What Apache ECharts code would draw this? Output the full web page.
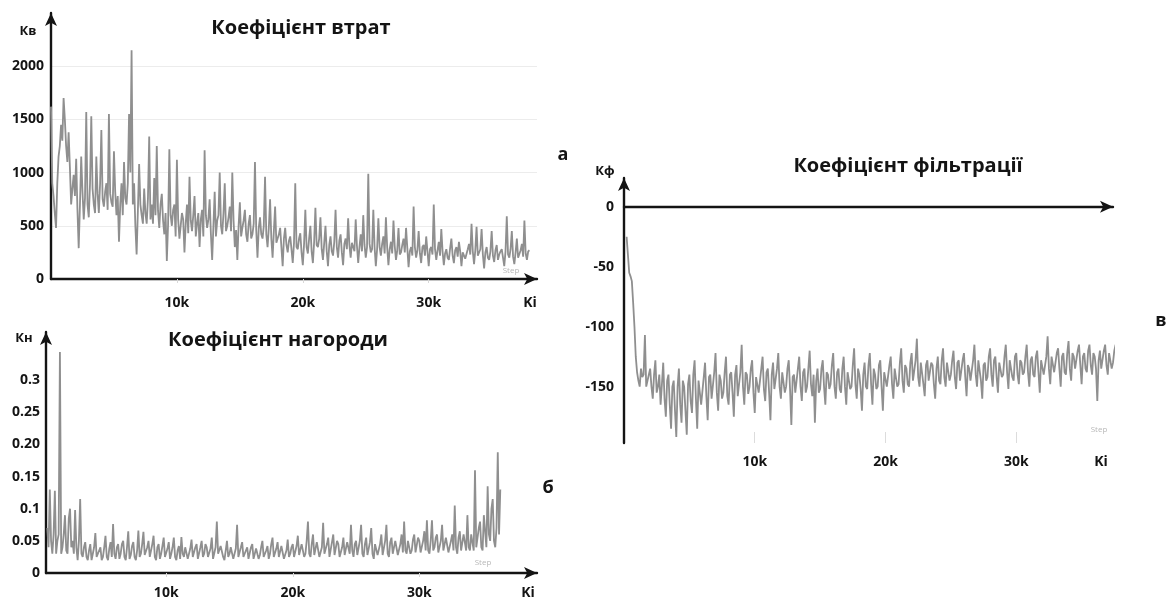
<!DOCTYPE html>
<html><head><meta charset="utf-8">
<script src="https://cdn.jsdelivr.net/npm/echarts@6/dist/echarts.min.js"></script>
<style>html,body{margin:0;padding:0;background:#fff}#c{width:1170px;height:601px}</style>
</head><body><div id="c"></div>
<script>
// ---- data (one value per 100 training steps) ----
const lossStart = 0, lossStepSize = 100;
const lossValues = [
1620,900,780,620,480,900,1150,1250,1450,1300,1700,1500,1250,1100,1380,1050,700,850,980,780,
1130,650,290,700,1150,820,560,760,1570,700,580,900,1530,850,700,620,1150,800,620,900,
1400,750,680,820,900,650,1550,800,720,680,1200,820,600,780,350,700,900,600,1100,760,
700,900,1550,1000,2150,700,900,500,230,640,1080,700,600,520,850,620,520,760,1340,560,
700,520,950,600,1250,640,480,700,800,550,420,620,170,520,1220,600,500,650,700,400,
1120,560,380,500,620,560,250,520,700,430,960,550,450,600,780,400,520,620,300,560,
650,400,1210,600,480,560,750,420,180,500,820,400,550,600,1000,500,420,620,900,450,
500,580,680,450,1000,550,300,460,180,500,720,400,480,550,650,420,350,520,600,380,
420,520,1100,460,200,480,580,420,380,500,960,420,300,480,750,380,200,450,680,340,
350,420,480,300,120,380,480,320,250,360,400,280,150,340,900,300,280,380,430,250,
130,330,650,300,240,380,500,260,150,350,670,320,300,380,580,280,180,340,500,260,
120,320,400,260,220,350,650,300,200,360,420,250,130,330,380,280,570,320,200,340,
350,260,560,310,150,300,420,260,600,320,200,300,990,330,250,280,650,300,120,280,
570,300,220,330,400,240,580,300,130,280,350,240,550,310,180,270,480,230,250,320,
380,250,480,290,110,260,300,220,680,300,200,270,450,240,150,300,320,220,400,260,
120,280,300,230,700,280,180,270,350,220,470,260,130,240,280,200,180,290,380,220,
150,270,300,210,350,260,120,250,260,190,200,280,330,230,520,260,140,270,490,220,
220,280,470,230,100,250,300,200,180,260,450,220,160,270,320,180,230,260,280,200,
120,260,590,230,200,280,450,210,140,250,380,200,200,270,330,210,550,240,180,260,
270];
const rewardStart = 600, rewardStepSize = 100;
const rewardValues = [
0.07,0.04,0.13,0.05,0.03,0.06,0.128,0.03,0.05,0.06,0.344,0.03,0.04,0.06,0.09,0.035,0.03,0.085,0.10,0.04,
0.05,0.03,0.098,0.04,0.02,0.05,0.115,0.03,0.025,0.04,0.048,0.025,0.02,0.035,0.045,0.02,0.03,0.04,0.062,0.025,
0.022,0.035,0.04,0.02,0.025,0.04,0.058,0.025,0.02,0.038,0.048,0.025,0.076,0.03,0.022,0.04,0.045,0.022,0.03,0.045,
0.05,0.025,0.02,0.04,0.065,0.022,0.028,0.042,0.048,0.025,0.02,0.035,0.066,0.025,0.03,0.045,0.064,0.028,0.025,0.04,
0.05,0.025,0.035,0.045,0.058,0.025,0.02,0.04,0.045,0.022,0.03,0.042,0.055,0.025,0.022,0.038,0.048,0.022,0.03,0.04,
0.055,0.025,0.02,0.035,0.042,0.022,0.056,0.03,0.025,0.04,0.04,0.022,0.02,0.038,0.052,0.025,0.028,0.04,0.045,0.022,
0.02,0.04,0.05,0.025,0.03,0.045,0.04,0.025,0.022,0.038,0.055,0.022,0.025,0.04,0.08,0.03,0.03,0.042,0.045,0.025,
0.02,0.035,0.05,0.025,0.03,0.04,0.042,0.022,0.02,0.038,0.075,0.025,0.028,0.04,0.048,0.025,0.022,0.035,0.04,0.022,
0.025,0.04,0.045,0.022,0.02,0.038,0.035,0.022,0.028,0.04,0.05,0.025,0.022,0.035,0.042,0.022,0.03,0.045,0.055,0.025,
0.022,0.038,0.048,0.025,0.025,0.042,0.04,0.022,0.02,0.035,0.052,0.025,0.03,0.04,0.045,0.025,0.022,0.042,0.058,0.028,
0.025,0.045,0.048,0.025,0.03,0.05,0.08,0.03,0.025,0.045,0.06,0.028,0.03,0.048,0.05,0.025,0.022,0.04,0.078,0.03,
0.03,0.045,0.055,0.025,0.025,0.048,0.06,0.028,0.028,0.05,0.045,0.025,0.022,0.04,0.055,0.028,0.03,0.048,0.045,0.03,
0.075,0.035,0.025,0.045,0.05,0.028,0.03,0.05,0.075,0.03,0.025,0.045,0.055,0.028,0.03,0.048,0.07,0.03,0.022,0.045,
0.048,0.028,0.025,0.045,0.06,0.028,0.03,0.05,0.075,0.03,0.025,0.048,0.055,0.03,0.03,0.05,0.05,0.028,0.025,0.045,
0.06,0.032,0.08,0.035,0.03,0.05,0.05,0.03,0.035,0.052,0.06,0.032,0.03,0.055,0.05,0.032,0.035,0.05,0.065,0.035,
0.082,0.035,0.03,0.05,0.082,0.035,0.04,0.055,0.06,0.032,0.03,0.05,0.075,0.035,0.035,0.055,0.055,0.032,0.03,0.05,
0.06,0.035,0.105,0.04,0.03,0.055,0.065,0.035,0.035,0.06,0.06,0.035,0.09,0.04,0.035,0.06,0.06,0.035,0.16,0.04,
0.04,0.07,0.08,0.04,0.035,0.09,0.065,0.04,0.135,0.06,0.05,0.1,0.115,0.05,0.04,0.07,0.188,0.06,0.13];
const filterStart = 200, filterStepSize = 100;
const filterValues = [
-25,-40,-55,-58,-62,-80,-100,-125,-138,-145,-150,-135,-142,-140,-107,-150,-145,-140,-135,-150,
-160,-140,-128,-155,-150,-140,-165,-148,-130,-160,-175,-145,-140,-165,-185,-150,-145,-170,-192,-150,
-135,-165,-180,-145,-150,-170,-190,-148,-140,-162,-172,-140,-128,-160,-185,-145,-145,-165,-165,-142,
-130,-158,-178,-142,-140,-160,-160,-138,-122,-155,-170,-140,-145,-160,-155,-138,-125,-158,-165,-140,
-138,-155,-175,-140,-132,-158,-158,-138,-115,-150,-165,-138,-140,-156,-150,-135,-128,-155,-172,-142,
-142,-155,-155,-135,-125,-152,-162,-138,-135,-155,-178,-140,-130,-152,-152,-135,-122,-150,-160,-138,
-138,-155,-150,-135,-128,-152,-182,-142,-140,-155,-155,-135,-125,-150,-162,-138,-135,-155,-150,-135,
-120,-148,-158,-140,-180,-145,-135,-155,-152,-135,-128,-150,-165,-138,-140,-152,-148,-132,-122,-150,
-160,-138,-135,-152,-155,-135,-125,-150,-165,-138,-138,-152,-150,-132,-118,-148,-160,-135,-140,-152,
-170,-140,-130,-150,-152,-132,-122,-148,-165,-135,-140,-152,-150,-132,-128,-150,-170,-138,-138,-150,
-150,-132,-125,-148,-160,-135,-135,-150,-148,-130,-118,-145,-155,-132,-135,-148,-150,-130,-122,-145,
-145,-128,-110,-142,-150,-130,-130,-148,-158,-132,-128,-145,-145,-130,-132,-148,-160,-135,-125,-145,
-148,-128,-118,-142,-150,-130,-130,-145,-140,-128,-120,-142,-152,-130,-128,-145,-145,-128,-122,-142,
-158,-132,-135,-145,-145,-128,-115,-140,-150,-128,-128,-145,-160,-132,-130,-145,-142,-125,-118,-140,
-150,-128,-125,-142,-155,-130,-130,-142,-140,-125,-115,-138,-152,-128,-128,-142,-145,-125,-122,-140,
-148,-128,-130,-140,-138,-125,-115,-138,-150,-128,-125,-140,-142,-125,-120,-138,-155,-128,-128,-140,
-140,-125,-108,-135,-148,-125,-125,-138,-138,-122,-118,-135,-150,-125,-122,-138,-140,-122,-112,-135,
-145,-122,-125,-135,-135,-120,-115,-132,-148,-125,-122,-135,-138,-120,-115,-132,-140,-122,-125,-135,
-162,-128,-120,-135,-135,-120,-115,-132,-140,-122,-122,-135,-130,-120,-115];
const xTickValues = [10000, 20000, 30000];
const xTickLabels = ['10k', '20k', '30k'];
const lossTickValues = [0, 500, 1000, 1500, 2000];
const lossTickLabels = ['0', '500', '1000', '1500', '2000'];
const rewardTickValues = [0, 0.05, 0.1, 0.15, 0.2, 0.25, 0.3];
const rewardTickLabels = ['0', '0.05', '0.1', '0.15', '0.20', '0.25', '0.3'];
const filterTickValues = [0, -50, -100, -150];
const filterTickLabels = ['0', '-50', '-100', '-150'];

// ---- build ----
const toPairs = (start, step, vals) => vals.map((v, i) => [start + i * step, v]);
const lbl = (vals, labels) => (v) => {
  for (let i = 0; i < vals.length; i++) if (Math.abs(vals[i] - v) < 1e-9) return labels[i];
  return '';
};
const FONT = '"Open Sans", "DejaVu Sans", sans-serif';
const INK = '#141414';
const LINE = '#8f8f8f';
const axisLineStyle = { color: INK, width: 2.4 };
const arrow = { symbol: ['none', 'arrow'], symbolSize: [9, 13] };
const tickText = { fontFamily: FONT, fontWeight: 'bold', fontSize: 14, color: INK };

const chart = echarts.init(document.getElementById('c'), null, { renderer: 'canvas' });
const txt = (text, x, y, size, color, weight) => ({
  type: 'text', x: x, y: y, silent: true,
  style: { text: text, align: 'center', verticalAlign: 'middle', fontFamily: FONT,
           fontSize: size, fontWeight: weight || 'bold', fill: color || INK }
});
const lineSeries = (xi, data, extra) => Object.assign({
  type: 'line', xAxisIndex: xi, yAxisIndex: Math.min(xi, 2), data: data,
  showSymbol: false, symbol: 'none',
  lineStyle: { color: LINE, width: 1.8, join: 'bevel' }, silent: true, z: 1
}, extra || {});

chart.setOption({
  animation: false,
  backgroundColor: '#fff',
  title: [
    { text: 'Коефіцієнт втрат', left: 296, top: 13, textAlign: 'center',
      textStyle: { fontFamily: FONT, fontWeight: 'bold', fontSize: 20, color: INK } },
    { text: 'Коефіцієнт нагороди', left: 273, top: 325, textAlign: 'center',
      textStyle: { fontFamily: FONT, fontWeight: 'bold', fontSize: 20, color: INK } },
    { text: 'Коефіцієнт фільтрації', left: 903, top: 151, textAlign: 'center',
      textStyle: { fontFamily: FONT, fontWeight: 'bold', fontSize: 20, color: INK } }
  ],
  grid: [
    { left: 51, top: 13, width: 486, height: 266 },
    { left: 46, top: 332, width: 491, height: 241 },
    { left: 624, top: 178, width: 489, height: 265 }
  ],
  xAxis: [
    { gridIndex: 0, type: 'value', min: 0, max: 38600,
      axisLine: Object.assign({ lineStyle: axisLineStyle }, arrow),
      axisTick: { show: true, customValues: xTickValues, length: 4, lineStyle: { color: '#d8d8d8' } },
      axisLabel: Object.assign({ customValues: xTickValues, margin: 17, formatter: lbl(xTickValues, xTickLabels) }, tickText),
      splitLine: { show: false } },
    { gridIndex: 1, type: 'value', min: 500, max: 39300,
      axisLine: Object.assign({ lineStyle: axisLineStyle }, arrow),
      axisTick: { show: true, customValues: xTickValues, length: 4, lineStyle: { color: '#d8d8d8' } },
      axisLabel: Object.assign({ customValues: xTickValues, margin: 13, formatter: lbl(xTickValues, xTickLabels) }, tickText),
      splitLine: { show: false } },
    { gridIndex: 2, type: 'value', min: 0, max: 37400, position: 'bottom',
      axisLine: { show: false, onZero: false },
      axisTick: { show: true, inside: true, customValues: xTickValues, length: 11, lineStyle: { color: '#dcdcdc' } },
      axisLabel: Object.assign({ customValues: xTickValues, margin: 12, formatter: lbl(xTickValues, xTickLabels) }, tickText),
      splitLine: { show: false } },
    { gridIndex: 2, type: 'value', min: 0, max: 37400, position: 'bottom',
      axisLine: Object.assign({ onZero: true, lineStyle: axisLineStyle }, arrow),
      axisTick: { show: false }, axisLabel: { show: false }, splitLine: { show: false } }
  ],
  yAxis: [
    { gridIndex: 0, type: 'value', min: 0, max: 2500, interval: 500,
      axisLine: Object.assign({ lineStyle: axisLineStyle }, arrow),
      axisTick: { show: false },
      axisLabel: Object.assign({ customValues: lossTickValues, margin: 7, formatter: lbl(lossTickValues, lossTickLabels) }, tickText),
      splitLine: { show: true, showMinLine: false, showMaxLine: false, lineStyle: { color: '#ececec', width: 1 } } },
    { gridIndex: 1, type: 'value', min: 0, max: 0.375,
      axisLine: Object.assign({ lineStyle: axisLineStyle }, arrow),
      axisTick: { show: false },
      axisLabel: Object.assign({ customValues: rewardTickValues, margin: 6, formatter: lbl(rewardTickValues, rewardTickLabels) }, tickText),
      splitLine: { show: false } },
    { gridIndex: 2, type: 'value', min: -197, max: 24,
      axisLine: Object.assign({ lineStyle: axisLineStyle }, arrow),
      axisTick: { show: false },
      axisLabel: Object.assign({ customValues: filterTickValues, margin: 10, formatter: lbl(filterTickValues, filterTickLabels) }, tickText),
      splitLine: { show: false } }
  ],
  series: [
    lineSeries(0, toPairs(lossStart, lossStepSize, lossValues)),
    lineSeries(1, toPairs(rewardStart, rewardStepSize, rewardValues)),
    lineSeries(2, toPairs(filterStart, filterStepSize, filterValues), { clip: false })
  ],
  graphic: [
    txt('Кв', 28, 31, 13), txt('Кн', 24, 338, 13), txt('Кф', 605, 171, 13),
    txt('Ki', 530, 303, 14), txt('Ki', 528, 593, 14), txt('Ki', 1101, 462, 14),
    txt('Step', 511, 271, 8, '#b8b8b8', 'normal'), txt('Step', 483, 563, 8, '#b8b8b8', 'normal'),
    txt('Step', 1099, 430, 8, '#b8b8b8', 'normal'),
    txt('а', 563, 155, 18), txt('б', 548, 488, 18), txt('в', 1161, 321, 18)
  ]
});
</script>
</body></html>
